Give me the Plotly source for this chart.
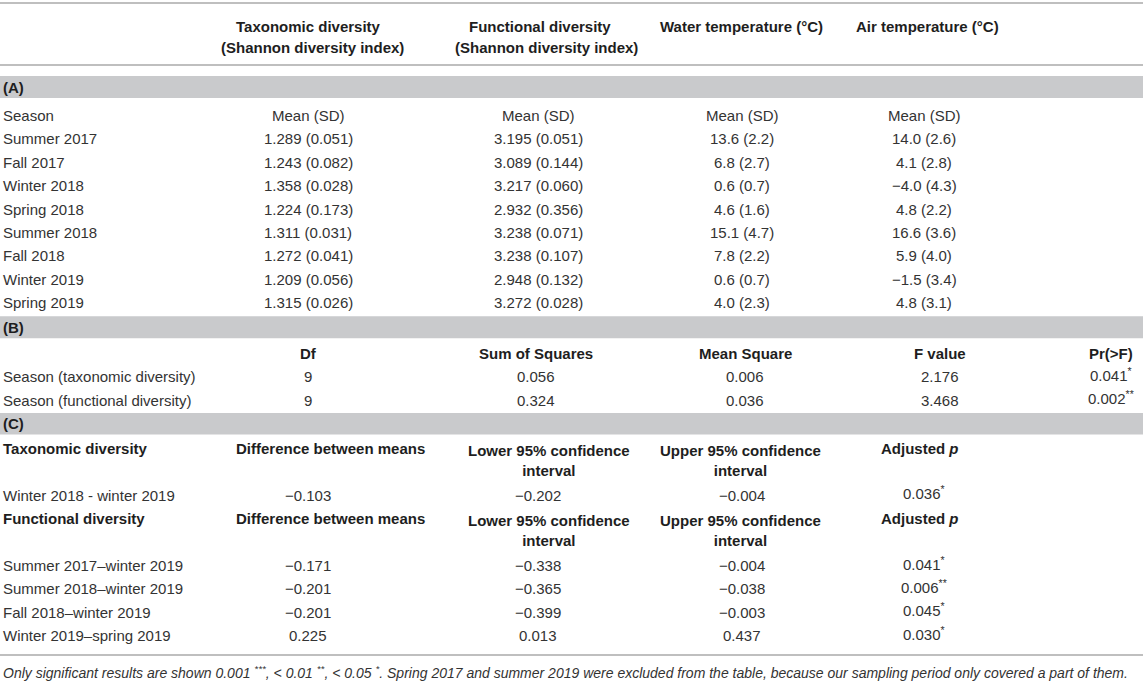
import plotly.graph_objects as go

# (A) seasonal means
seasons = ["Summer 2017", "Fall 2017", "Winter 2018", "Spring 2018",
           "Summer 2018", "Fall 2018", "Winter 2019", "Spring 2019"]
tax_mean = [1.289, 1.243, 1.358, 1.224, 1.311, 1.272, 1.209, 1.315]
tax_sd = [0.051, 0.082, 0.028, 0.173, 0.031, 0.041, 0.056, 0.026]
func_mean = [3.195, 3.089, 3.217, 2.932, 3.238, 3.238, 2.948, 3.272]
func_sd = [0.051, 0.144, 0.060, 0.356, 0.071, 0.107, 0.132, 0.028]
water_mean = [13.6, 6.8, 0.6, 4.6, 15.1, 7.8, 0.6, 4.0]
water_sd = [2.2, 2.7, 0.7, 1.6, 4.7, 2.2, 0.7, 2.3]
air_mean = [14.0, 4.1, -4.0, 4.8, 16.6, 5.9, -1.5, 4.8]
air_sd = [2.6, 2.8, 4.3, 2.2, 3.6, 4.0, 3.4, 3.1]

# (B) anova
anova_terms = ["Season (taxonomic diversity)", "Season (functional diversity)"]
anova_df = [9, 9]
anova_ss = [0.056, 0.324]
anova_ms = [0.006, 0.036]
anova_f = [2.176, 3.468]
anova_p = [0.041, 0.002]

# (C) post hoc comparisons
tax_pairs = ["Winter 2018 - winter 2019"]
tax_diff = [-0.103]
tax_lwr = [-0.202]
tax_upr = [-0.004]
tax_padj = [0.036]

func_pairs = ["Summer 2017\u2013winter 2019", "Summer 2018\u2013winter 2019",
              "Fall 2018\u2013winter 2019", "Winter 2019\u2013spring 2019"]
func_diff = [-0.171, -0.201, -0.201, 0.225]
func_lwr = [-0.338, -0.365, -0.399, 0.013]
func_upr = [-0.004, -0.038, -0.003, 0.437]
func_padj = [0.041, 0.006, 0.045, 0.030]

footnote = ("Only significant results are shown 0.001 <sup>***</sup>, &lt; 0.01 <sup>**</sup>, "
            "&lt; 0.05 <sup>*</sup>. Spring 2017 and summer 2019 were excluded from the table, "
            "because our sampling period only covered a part of them.")

W, H = 1143, 682
FONT = "Liberation Sans"
TXT = "#333333"
HDR = "#1e1e1e"
BAND = "#c9cacc"
RULE = "#bfbfbf"
FS = 15
SUP_SHIFT = 2.5   # sup text makes the box taller, pull it back up


def num(v, d):
    return f"{v:.{d}f}".replace("-", "\u2212")


def ms(m, s, d):
    return f"{num(m, d)} ({num(s, d)})"


def pstar(p):
    stars = "**" if p < 0.01 else "*"
    return f"{p:.3f}<sup>{stars}</sup>"


fig = go.Figure()
ann = []
shapes = []


def txt(x, y, s, anchor="center", bold=False, size=FS, color=TXT, italic=False):
    if "<sup>" in s:
        y -= SUP_SHIFT
    if bold:
        s = f"<b>{s}</b>"
    if italic:
        s = f"<i>{s}</i>"
    ann.append(dict(x=x, y=y, xref="x", yref="y", text=s, showarrow=False,
                    xanchor=anchor, yanchor="middle", borderpad=0,
                    font=dict(family=FONT, size=size, color=color)))


def rule(y, w=2):
    shapes.append(dict(type="line", xref="x", yref="y", x0=0, x1=W, y0=y, y1=y,
                       line=dict(color=RULE, width=w)))


def band(y0, y1, label):
    shapes.append(dict(type="rect", xref="x", yref="y", x0=0, x1=W, y0=y0, y1=y1,
                       fillcolor=BAND, line=dict(width=0), layer="below"))
    txt(2, (y0 + y1) / 2, label, anchor="left", bold=True, color=HDR)


ROW = 23.4
L = 2

# column positions
col_a = [308, 538, 742, 924]
col_b = [308, 536, 745, 940, 1111]
col_c = [308, 538, 742, 924]

# column header
rule(3)
txt(col_a[0], 26, "Taxonomic diversity", bold=True, color=HDR)
txt(col_a[0] + 4, 47, "(Shannon diversity index)", bold=True, color=HDR)
txt(col_a[1] + 2, 26, "Functional diversity", bold=True, color=HDR)
txt(col_a[1] + 8, 47, "(Shannon diversity index)", bold=True, color=HDR)
txt(659, 26, "Water temperature (\u00b0C)", anchor="left", bold=True, color=HDR)
txt(855, 26, "Air temperature (\u00b0C)", anchor="left", bold=True, color=HDR)
rule(65)

# (A)
band(76, 98, "(A)")
y = 115.5
txt(L, y, "Season", anchor="left")
for c in col_a:
    txt(c, y, "Mean (SD)")
for i, s in enumerate(seasons):
    y += ROW
    txt(L, y, s, anchor="left")
    txt(col_a[0], y, ms(tax_mean[i], tax_sd[i], 3))
    txt(col_a[1], y, ms(func_mean[i], func_sd[i], 3))
    txt(col_a[2], y, ms(water_mean[i], water_sd[i], 1))
    txt(col_a[3], y, ms(air_mean[i], air_sd[i], 1))

# (B)
yb = y + 13.5
band(yb, yb + 22, "(B)")
y = yb + 37
for c, h in zip(col_b, ["Df", "Sum of Squares", "Mean Square", "F value", "Pr(&gt;F)"]):
    txt(c, y, h, bold=True, color=HDR)
for i, t in enumerate(anova_terms):
    y += ROW
    txt(L, y, t, anchor="left")
    txt(col_b[0], y, str(anova_df[i]))
    txt(col_b[1], y, num(anova_ss[i], 3))
    txt(col_b[2], y, num(anova_ms[i], 3))
    txt(col_b[3], y, num(anova_f[i], 3))
    txt(col_b[4], y, pstar(anova_p[i]))

# (C)
yc = y + 13
band(yc, yc + 21.5, "(C)")
hdr_c = [(235, "Difference between means", None),
         (467, "Lower 95% confidence", "interval"),
         (659, "Upper 95% confidence", "interval"),
         (880, "Adjusted <i>p</i>", None)]
y = yc + 35.5
for group, pairs, d, lo, up, pa in [
        ("Taxonomic diversity", tax_pairs, tax_diff, tax_lwr, tax_upr, tax_padj),
        ("Functional diversity", func_pairs, func_diff, func_lwr, func_upr, func_padj)]:
    txt(L, y, group, anchor="left", bold=True, color=HDR)
    for x0, l1, l2 in hdr_c:
        if l2:
            txt(x0, y + ROW / 2, f"{l1}<br>{l2}", anchor="left", bold=True, color=HDR)
        else:
            txt(x0, y, l1, anchor="left", bold=True, color=HDR)
    y += ROW
    for i, pr in enumerate(pairs):
        y += ROW
        txt(L, y, pr, anchor="left")
        txt(col_c[0], y, num(d[i], 3))
        txt(col_c[1], y, num(lo[i], 3))
        txt(col_c[2], y, num(up[i], 3))
        txt(col_c[3], y, pstar(pa[i]))
    y += ROW

rule(y - 4)
txt(L, y + 15, footnote, anchor="left", italic=True, size=14)

fig.update_layout(
    width=W, height=H, margin=dict(l=0, r=0, t=0, b=0, pad=0),
    paper_bgcolor="white", plot_bgcolor="white",
    xaxis=dict(range=[0, W], visible=False, fixedrange=True),
    yaxis=dict(range=[H, 0], visible=False, fixedrange=True),
    annotations=ann, shapes=shapes, showlegend=False,
)
fig.write_html("out.html", config={"displayModeBar": False},
               post_script="document.body.style.margin='0px';")
